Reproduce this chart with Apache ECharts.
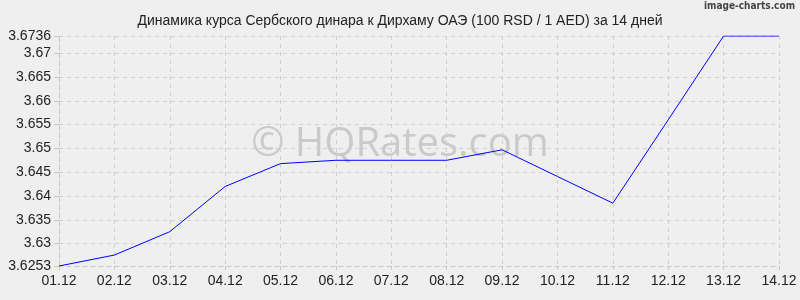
<!DOCTYPE html>
<html><head><meta charset="utf-8">
<script src="https://cdn.jsdelivr.net/npm/echarts@6/dist/echarts.min.js"></script>
<style>html,body{margin:0;padding:0;background:#efefef}#c{width:800px;height:300px}</style>
</head><body><div id="c"></div>
<script>
const categories = ['01.12','02.12','03.12','04.12','05.12','06.12','07.12','08.12','09.12','10.12','11.12','12.12','13.12','14.12'];
const rates = [3.6253,3.6276,3.6325,3.6420,3.6468,3.6475,3.6475,3.6475,3.6497,3.6441,3.6385,3.6560,3.6736,3.6736];
const yTicks = [3.6253,3.63,3.635,3.64,3.645,3.65,3.655,3.66,3.665,3.67,3.6736];
const yMin = 3.6253, yMax = 3.6736;
const titleText = 'Динамика курса Сербского динара к Дирхаму ОАЭ (100 RSD / 1 AED) за 14 дней';

const chart = echarts.init(document.getElementById('c'), null, {renderer:'canvas'});
const font = 'Liberation Sans, Arial, sans-serif';
const gridLine = {show:true, lineStyle:{color:'#d0d0d0', type:[4,4], width:1}};
chart.setOption({
  backgroundColor:'#efefef',
  animation:false,
  title:{text:titleText, left:'center', top:9, textStyle:{fontFamily:font, fontSize:14, fontWeight:'normal', color:'#222'}},
  graphic:[
    {type:'text', left:'center', top:125, z:0, style:{text:'© HQRates.com', fontFamily:'Open Sans, Liberation Sans, sans-serif', fontSize:40, fill:'#cacaca'}},
    {type:'text', right:5, top:1, style:{text:'image-charts.com', fontFamily:'DejaVu Sans Condensed, sans-serif', fontWeight:'bold', fontSize:10, fill:'#444'}}
  ],
  grid:{left:59, right:21, top:36, bottom:34},
  xAxis:{type:'category', data:categories, boundaryGap:false,
    axisLine:{show:true, lineStyle:{color:'#c8c8c8', type:[4,4]}},
    axisTick:{show:true, length:4, lineStyle:{color:'#c8c8c8'}},
    axisLabel:{fontFamily:font, fontSize:14, color:'#222', margin:8, interval:0},
    splitLine:gridLine},
  yAxis:{type:'value', min:yMin, max:yMax,
    axisLine:{show:true, lineStyle:{color:'#c8c8c8', type:[4,4]}},
    axisTick:{show:true, length:5, customValues:yTicks, lineStyle:{color:'#c8c8c8'}},
    axisLabel:{fontFamily:font, fontSize:14, color:'#222', margin:8, customValues:yTicks,
      formatter:v=>String(+(+v).toFixed(4))},
    splitLine:gridLine},
  series:[{type:'line', data:rates, symbol:'none', lineStyle:{color:'#0000ff', width:1}, z:3}]
});
</script></body></html>
